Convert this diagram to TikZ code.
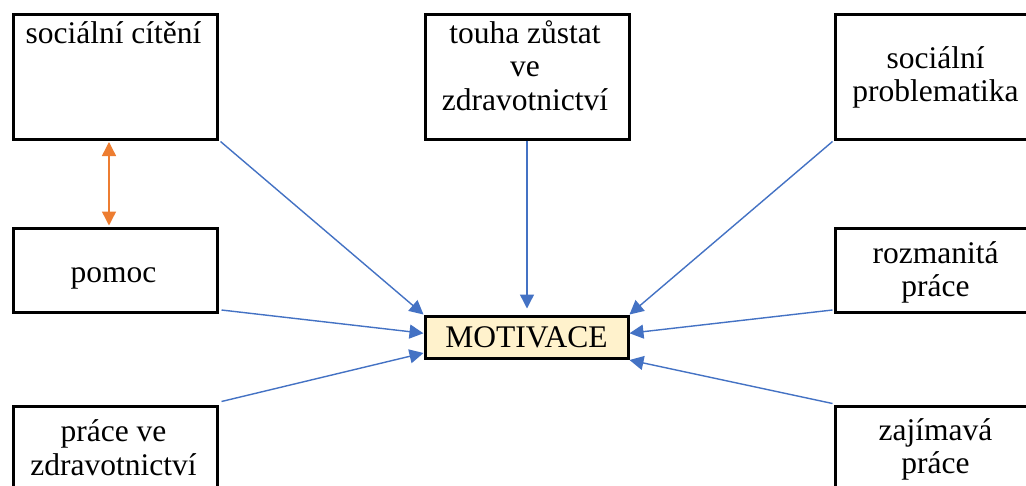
\documentclass[tikz,border=0pt]{standalone}
\usepackage{fontspec}
\setmainfont{Liberation Serif}
\usetikzlibrary{arrows.meta,calc}
\definecolor{ablue}{HTML}{4472C4}
\definecolor{aorange}{HTML}{ED7D31}
\definecolor{afill}{HTML}{FFF2CC}
\begin{document}
\begin{tikzpicture}[x=1pt,y=-1pt,
  box/.style={draw=black,line width=3pt,inner sep=0pt,anchor=north west,minimum width=204pt},
  tall/.style={box,minimum height=125pt},
  mid/.style={box,minimum height=84pt},
  lbl/.style={inner sep=0pt,anchor=base,align=center,font=\fontsize{31.5}{33.5}\selectfont},
  conn/.style={draw=ablue,line width=1.4pt,-{Triangle[length=14pt,width=14pt]}},
  link/.style={draw=aorange,line width=1.4pt,{Triangle[length=14pt,width=14pt]}-{Triangle[length=14pt,width=14pt]}}]
\useasboundingbox (0,0) rectangle (1026,485);
\clip (0,0) rectangle (1026,485);
\fill[white] (0,0) rectangle (1026,485);
% boxes
\node[tall] (sc) at (11.5,12.5) {};
\node[tall] (th) at (423.5,12.5) {};
\node[tall] (sp) at (833.5,12.5) {};
\node[mid] (pm) at (11.5,227) {};
\node[mid] (rz) at (833.5,227) {};
\node[tall] (pz) at (11.5,404.5) {};
\node[tall] (zj) at (833.5,404.5) {};
\node[box,fill=afill,minimum width=203pt,minimum height=42.5pt,font=\fontsize{31.5}{33.5}\selectfont] (mot) at (423.5,314.5) {MOTIVACE};
% texts (anchor = baseline of the last line)
\node[lbl] (sct) at (113.5,43) {sociální cítění};
\node[lbl] (tht) at (525,110) {touha zůstat\\ve\\zdravotnictví};
\node[lbl] (spt) at (935.5,101.5) {sociální\\problematika};
\node[lbl] (pmt) at (113.5,282) {pomoc};
\node[lbl] (rzt) at (935.5,296.5) {rozmanitá\\práce};
\node[lbl] (pzt) at (113.5,475) {práce ve\\zdravotnictví};
\node[lbl] (zjt) at (935.5,473.5) {zajímavá\\práce};
% connectors
\draw[conn] ($(sc.south east)+(2,1)$) -- (mot.north west);
\draw[conn,shorten >=6pt] (th.south) -- (th.south |- mot.north);
\draw[conn] ($(sp.south west)+(-1,1)$) -- (mot.north east);
\draw[conn] ($(pm.south east)+(3,-4)$) -- ($(mot.west)+(0,-4)$);
\draw[conn] ($(pz.north east)+(3,-3)$) -- ($(mot.south west)+(0,-7)$);
\draw[conn] ($(rz.south west)+(-1,-4)$) -- ($(mot.east)+(0,-4)$);
\draw[conn] ($(zj.north west)+(-1,-1)$) -- (mot.south east);
\draw[link] ($(sc.south)+(-6,1.5)$) -- ($(pm.north)+(-6,-1.5)$);
\end{tikzpicture}
\end{document}
